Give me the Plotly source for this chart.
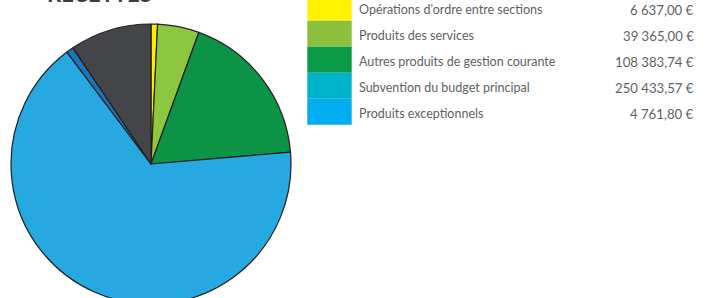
import plotly.graph_objects as go

W = 707          # page width
SHIFT = 12       # figure is lifted by this many px so the cut-off title can show
H = 316          # figure height (page 298 + shift + part of pie below the fold)

title_text = "RECETTES"

# Pie slices (shares, in %)
slice_labels = [
    "Opérations d'ordre entre sections",
    "Produits des services",
    "Autres produits de gestion courante",
    "Subvention du budget principal",
    "Produits exceptionnels",
    "Autres recettes",
]
slice_shares = [0.75, 4.8, 18.1, 66.1, 0.83, 9.42]
slice_colors = ["#FFED00", "#8DC63F", "#0D9345", "#25A9E0", "#1B75BB", "#444548"]

# Legend (as printed next to the chart)
legend_labels = [
    "Opérations d'ordre entre sections",
    "Produits des services",
    "Autres produits de gestion courante",
    "Subvention du budget principal",
    "Produits exceptionnels",
]
legend_amounts = [6637.00, 39365.00, 108383.74, 250433.57, 4761.80]
legend_colors = ["#FFF100", "#8DBF3F", "#0A9A48", "#00B2CA", "#00AEEF"]


def fmt_eur(v):
    s = f"{v:,.2f}"
    ent, dec = s.split(".")
    return ent.replace(",", "\u202f") + "," + dec + " €"


def px(x):
    return x / W


def py(y):
    # y given in page pixels from the top of the visible page
    return 1 - (y + SHIFT) / H


fig = go.Figure()

fig.add_trace(go.Pie(
    labels=slice_labels,
    values=slice_shares,
    sort=False,
    direction="clockwise",
    rotation=0,
    textinfo="none",
    hoverinfo="label+percent",
    marker=dict(colors=slice_colors, line=dict(color="#231F20", width=1.2)),
    domain=dict(x=[px(11), px(291)], y=[0, py(24)]),
    showlegend=False,
))

shapes = []
annotations = []
row_top0 = -5.3
row_h = 26.0
for i, (lab, amt, col) in enumerate(zip(legend_labels, legend_amounts, legend_colors)):
    top = row_top0 + i * row_h
    bot = top + row_h
    shapes.append(dict(type="rect", xref="paper", yref="paper",
                       x0=px(307.3), x1=px(351.7), y0=py(bot), y1=py(top),
                       fillcolor=col, line=dict(width=0), layer="above"))
    cy = top + row_h / 2 + 2
    annotations.append(dict(xref="paper", yref="paper", x=px(357), y=py(cy),
                            text=lab, showarrow=False, xanchor="left", yanchor="middle",
                            font=dict(family="Lato", size=12.5, color="#5E5F61")))
    annotations.append(dict(xref="paper", yref="paper", x=px(695.5), y=py(cy),
                            text=fmt_eur(amt), showarrow=False, xanchor="right", yanchor="middle",
                            font=dict(family="Lato", size=13.2, color="#5E5F61")))

annotations.append(dict(xref="paper", yref="paper", x=px(45), y=py(9.3),
                        text="<b>" + title_text + "</b>", showarrow=False,
                        xanchor="left", yanchor="bottom",
                        font=dict(family="Lato", size=22, color="#3C3C3B")))

fig.update_layout(
    width=W, height=H,
    margin=dict(l=0, r=0, t=0, b=0),
    paper_bgcolor="white", plot_bgcolor="white",
    shapes=shapes, annotations=annotations,
)

fig.write_html(
    "out.html",
    config={"displayModeBar": False},
    post_script=(
        "document.body.style.margin='0';"
        "document.body.style.marginTop='-%dpx';"
        "document.body.style.overflow='hidden';"
        "document.documentElement.style.overflow='hidden';" % SHIFT
    ),
)
